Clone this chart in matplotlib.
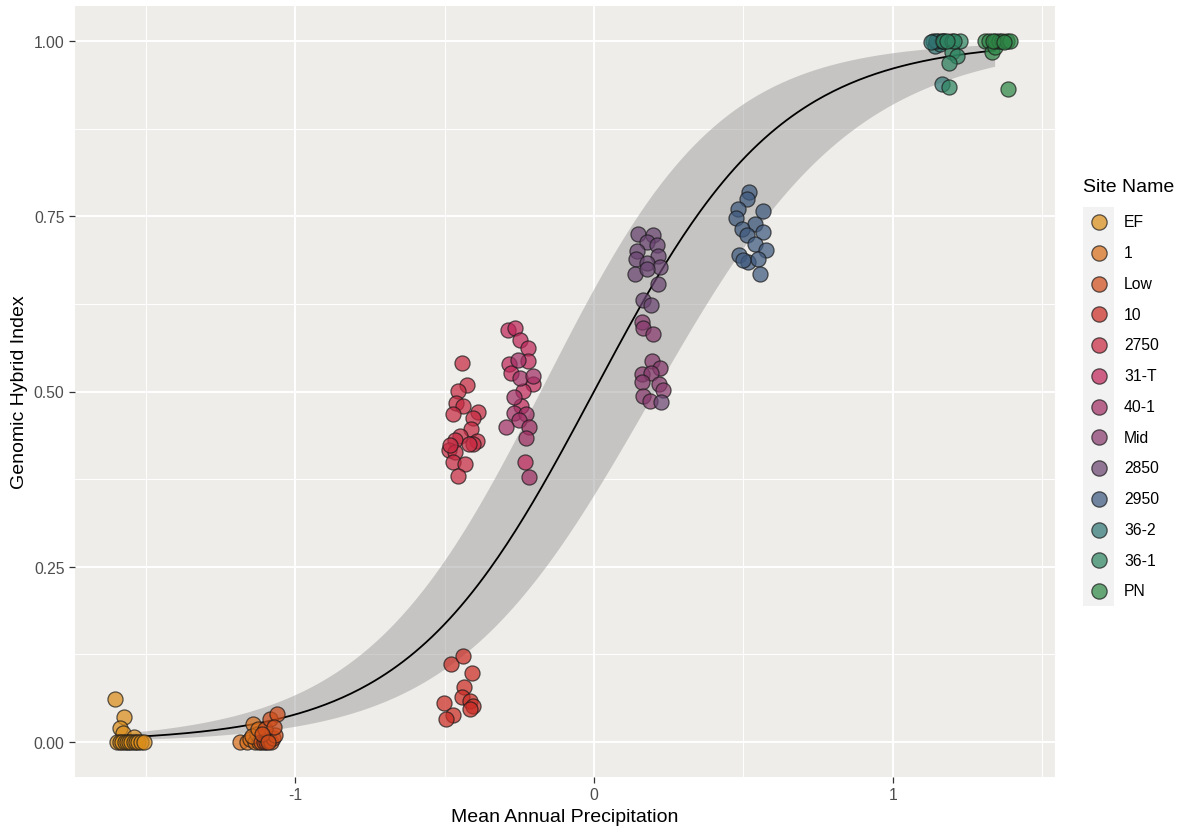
import numpy as np
import matplotlib.pyplot as plt
from matplotlib.lines import Line2D
from matplotlib.patches import Rectangle
from matplotlib.ticker import MultipleLocator

plt.rcParams['font.family'] = ['Liberation Sans', 'DejaVu Sans']
plt.rcParams['axes.unicode_minus'] = False

# sites in legend order, with fill colour and site precipitation (scaled)
sites = ['EF', '1', 'Low', '10', '2750', '31-T', '40-1', 'Mid', '2850', '2950', '36-2', '36-1', 'PN']
site_colors = ['#DA8D1A', '#D76D1A', '#CF4D1A', '#CA2D25', '#C72A42', '#BF275A', '#A22F65',
               '#873A6D', '#6A4572', '#3F5A7F', '#327775', '#2F8562', '#2F8747']
site_precip = [-1.546, -1.15, -1.09, -0.45, -0.44, -0.25, -0.25, 0.18, 0.18, 0.52, 1.17, 1.18, 1.34]

# logistic fit (logit scale): intercept, slope, and standard error of the linear predictor
fit_intercept = 0.0
fit_slope = 3.2
se_min = 0.28        # smallest standard error
se_growth = 0.22     # growth of the standard error away from its minimum
se_center = -0.6     # precipitation where the standard error is smallest

# jittered precipitation and hybrid index per individual
ef_x = [-1.602, -1.572, -1.586, -1.575, -1.538, -1.595, -1.585, -1.578, -1.570, -1.562, -1.555,
        -1.548, -1.540, -1.532, -1.525, -1.515, -1.505]
ef_y = [0.061, 0.035, 0.020, 0.013, 0.007, 0.0, 0.0, 0.0, 0.0, 0.0, 0.0,
        0.0, 0.0, 0.0, 0.0, 0.0, 0.0]

one_x = [-1.184, -1.160, -1.150, -1.140, -1.135, -1.128, -1.120, -1.145, -1.125]
one_y = [0.0, 0.0, 0.004, 0.026, 0.0, 0.012, 0.0, 0.008, 0.018]

low_x = [-1.115, -1.105, -1.098, -1.090, -1.082, -1.075, -1.068, -1.100, -1.084, -1.061,
         -1.072, -1.110, -1.092]
low_y = [0.0, 0.0, 0.0, 0.003, 0.0, 0.006, 0.010, 0.019, 0.033, 0.040, 0.021, 0.012, 0.0]

ten_x = [-0.479, -0.439, -0.409, -0.435, -0.442, -0.415, -0.404, -0.415, -0.501, -0.473, -0.495]
ten_y = [0.111, 0.122, 0.099, 0.079, 0.064, 0.059, 0.051, 0.047, 0.056, 0.039, 0.033]

s2750_x = [-0.442, -0.424, -0.456, -0.462, -0.437, -0.471, -0.387, -0.406, -0.412, -0.448,
           -0.465, -0.392, -0.404, -0.484, -0.465, -0.417, -0.471, -0.431, -0.454, -0.482]
s2750_y = [0.540, 0.509, 0.501, 0.484, 0.480, 0.468, 0.471, 0.462, 0.446, 0.437,
           0.431, 0.430, 0.425, 0.417, 0.414, 0.425, 0.399, 0.397, 0.380, 0.423]

t31_x = [-0.287, -0.264, -0.247, -0.220, -0.283, -0.220, -0.279, -0.205, -0.236, -0.245, -0.231]
t31_y = [0.588, 0.590, 0.574, 0.562, 0.539, 0.543, 0.526, 0.510, 0.501, 0.480, 0.400]

s40_x = [-0.253, -0.247, -0.203, -0.267, -0.267, -0.227, -0.250, -0.295, -0.216, -0.228, -0.217]
s40_y = [0.545, 0.519, 0.522, 0.492, 0.470, 0.468, 0.460, 0.450, 0.450, 0.433, 0.378]

mid_x = [0.159, 0.165, 0.196, 0.193, 0.221, 0.159, 0.190, 0.159, 0.218, 0.232, 0.165, 0.187]
mid_y = [0.599, 0.591, 0.582, 0.543, 0.533, 0.525, 0.527, 0.513, 0.511, 0.502, 0.494, 0.487]

s2850_x = [0.146, 0.198, 0.176, 0.210, 0.143, 0.215, 0.140, 0.176, 0.221, 0.137, 0.176, 0.213,
           0.163, 0.190, 0.224]
s2850_y = [0.725, 0.723, 0.714, 0.709, 0.701, 0.694, 0.689, 0.684, 0.677, 0.668, 0.675, 0.653,
           0.630, 0.623, 0.485]

s2950_x = [0.519, 0.511, 0.483, 0.564, 0.475, 0.538, 0.494, 0.566, 0.511, 0.538, 0.575, 0.486,
           0.516, 0.550, 0.499, 0.555]
s2950_y = [0.785, 0.775, 0.761, 0.757, 0.747, 0.739, 0.732, 0.727, 0.723, 0.710, 0.702, 0.695,
           0.685, 0.689, 0.687, 0.668]

s362_x = [1.135, 1.140, 1.150, 1.157, 1.163, 1.145, 1.165, 1.128, 1.172]
s362_y = [1.0, 0.993, 1.0, 0.996, 0.939, 1.0, 1.0, 0.998, 1.0]

s361_x = [1.167, 1.196, 1.224, 1.196, 1.213, 1.188, 1.188, 1.205, 1.180]
s361_y = [1.0, 1.0, 1.0, 0.984, 0.979, 0.969, 0.934, 1.0, 1.0]

pn_x = [1.308, 1.320, 1.330, 1.341, 1.341, 1.355, 1.365, 1.380, 1.392, 1.386, 1.335, 1.372]
pn_y = [1.0, 1.0, 0.984, 0.992, 1.0, 1.0, 1.0, 1.0, 1.0, 0.932, 1.0, 0.998]

site_x = [ef_x, one_x, low_x, ten_x, s2750_x, t31_x, s40_x, mid_x, s2850_x, s2950_x, s362_x, s361_x, pn_x]
site_y = [ef_y, one_y, low_y, ten_y, s2750_y, t31_y, s40_y, mid_y, s2850_y, s2950_y, s362_y, s361_y, pn_y]


def expit(v):
    return 1 / (1 + np.exp(-v))


# fitted curve and 95% band over the range of site precipitation
grid = np.linspace(min(site_precip), max(site_precip), 300)
eta = fit_intercept + fit_slope * grid
se = np.sqrt(se_min ** 2 + (se_growth * (grid - se_center)) ** 2)

W, H = 1182, 829
fig = plt.figure(figsize=(W / 100, H / 100), dpi=100)
ax = fig.add_axes([75 / W, 1 - 778 / H, 980 / W, 771 / H])
ax.set_facecolor('#EEEDE9')

ax.fill_between(grid, expit(eta - 1.96 * se), expit(eta + 1.96 * se),
                color='#999999', alpha=0.48, linewidth=0, zorder=2)
ax.plot(grid, expit(eta), color='black', lw=1.3, zorder=3)

for name, col, xs, ys in zip(sites, site_colors, site_x, site_y):
    ax.scatter(xs, ys, s=118, facecolor=col, edgecolor='#1a1a1a', linewidth=0.9,
               alpha=0.72, zorder=4)

ax.set_xlim(-1.736, 1.542)
ax.set_ylim(-0.05, 1.05)
ax.xaxis.set_major_locator(MultipleLocator(1))
ax.xaxis.set_minor_locator(MultipleLocator(0.5))
ax.yaxis.set_major_locator(MultipleLocator(0.25))
ax.yaxis.set_minor_locator(MultipleLocator(0.125))
ax.yaxis.set_major_formatter(lambda v, pos: f'{v:.2f}')
ax.xaxis.set_major_formatter(lambda v, pos: f'{v:.0f}')
ax.grid(which='major', color='white', lw=1.4, zorder=0)
ax.grid(which='minor', color='white', lw=0.7, zorder=0)
ax.set_axisbelow(True)
for sp in ax.spines.values():
    sp.set_visible(False)
ax.tick_params(which='major', length=4.5, width=0.9, color='#333333',
               labelsize=11.3, labelcolor='#4D4D4D', pad=3)
ax.tick_params(which='minor', length=0)
ax.set_xlabel('Mean Annual Precipitation', fontsize=14, color='black', labelpad=4)
ax.set_ylabel('Genomic Hybrid Index', fontsize=14, color='black', labelpad=4)

# legend
fig.text(1083 / W, 1 - 188 / H, 'Site Name', fontsize=14, ha='left', va='center')
row0, step = 223, 30.75
fig.add_artist(Rectangle((1083 / W, 1 - (row0 + 12 * step + step / 2) / H), 31 / W, 13 * step / H,
                         transform=fig.transFigure, facecolor='#F2F2F2', edgecolor='none'))
for i, (name, col) in enumerate(zip(sites, site_colors)):
    yy = 1 - (row0 + i * step) / H
    fig.add_artist(Line2D([1098.5 / W], [yy], transform=fig.transFigure, marker='o', markersize=11,
                          markerfacecolor=col, markeredgecolor='#1a1a1a', markeredgewidth=0.9,
                          alpha=0.72, linestyle='none'))
    fig.text(1124 / W, yy, name, fontsize=11.3, ha='left', va='center')

fig.savefig('out.png', dpi=100)
